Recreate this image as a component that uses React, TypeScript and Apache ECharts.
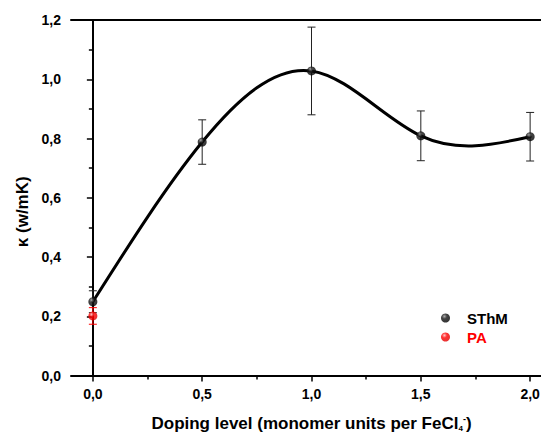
import React, { useEffect, useRef } from "react";
import * as echarts from "echarts";

// ---- data ----
const dopingLevels = [0, 0.5, 1.0, 1.5, 2.0];
const sthmKappa = [0.249, 0.788, 1.028, 0.809, 0.806];
const sthmError = [0.037, 0.075, 0.148, 0.084, 0.082];

const paLevels = [0];
const paKappa = [0.201];
const paError = [0.028];

const xMajorTicks = [0, 0.5, 1.0, 1.5, 2.0];
const xMinorTicks = [0.25, 0.75, 1.25, 1.75];
const yTicks = [0, 0.2, 0.4, 0.6, 0.8, 1.0, 1.2];

const FONT = "'Liberation Sans', Arial, Helvetica, sans-serif";
const fmt = (v: number) => v.toFixed(1).replace(".", ",");

// natural cubic spline slopes (used to draw the fitted curve through the points)
function splineSlopes(xs: number[], ys: number[]): number[] {
  const n = xs.length;
  const h: number[] = [];
  const d: number[] = [];
  for (let i = 0; i < n - 1; i++) {
    h.push(xs[i + 1] - xs[i]);
    d.push((ys[i + 1] - ys[i]) / h[i]);
  }
  const a = new Array(n).fill(0);
  const b = new Array(n).fill(0);
  const c = new Array(n).fill(0);
  const r = new Array(n).fill(0);
  b[0] = 2; c[0] = 1; r[0] = 3 * d[0];
  for (let i = 1; i < n - 1; i++) {
    a[i] = h[i];
    b[i] = 2 * (h[i - 1] + h[i]);
    c[i] = h[i - 1];
    r[i] = 3 * (h[i] * d[i - 1] + h[i - 1] * d[i]);
  }
  a[n - 1] = 1; b[n - 1] = 2; r[n - 1] = 3 * d[n - 2];
  for (let i = 1; i < n; i++) {
    const w = a[i] / b[i - 1];
    b[i] -= w * c[i - 1];
    r[i] -= w * r[i - 1];
  }
  const m = new Array(n).fill(0);
  m[n - 1] = r[n - 1] / b[n - 1];
  for (let i = n - 2; i >= 0; i--) m[i] = (r[i] - c[i] * m[i + 1]) / b[i];
  return m;
}

const sphere = (hi: string, mid: string, lo: string) =>
  new echarts.graphic.RadialGradient(0.38, 0.32, 0.7, [
    { offset: 0, color: hi },
    { offset: 0.4, color: mid },
    { offset: 1, color: lo },
  ]);

function errorBars(xs: number[], ys: number[], errs: number[], color: string) {
  return {
    type: "custom",
    silent: true,
    z: 3,
    data: xs.map((x, i) => [x, ys[i] - errs[i], ys[i] + errs[i]]),
    renderItem: (_params: any, api: any) => {
      const x = api.value(0);
      const lo = api.coord([x, api.value(1)]);
      const hi = api.coord([x, api.value(2)]);
      const w = 4;
      const style = { stroke: color, lineWidth: 1 };
      return {
        type: "group",
        children: [
          { type: "line", shape: { x1: lo[0], y1: lo[1], x2: hi[0], y2: hi[1] }, style },
          { type: "line", shape: { x1: lo[0] - w, y1: lo[1], x2: lo[0] + w, y2: lo[1] }, style },
          { type: "line", shape: { x1: hi[0] - w, y1: hi[1], x2: hi[0] + w, y2: hi[1] }, style },
        ],
      };
    },
  };
}

export default function App() {
  const ref = useRef<HTMLDivElement>(null);

  useEffect(() => {
    if (!ref.current) return;
    const chart = echarts.init(ref.current, undefined, { renderer: "svg" });
    const axisLine = { show: true, lineStyle: { color: "#000", width: 2 } };
    const tickLabel = {
      fontFamily: FONT,
      fontWeight: "bold",
      fontSize: 14,
      color: "#000",
    };
    const slopes = splineSlopes(dopingLevels, sthmKappa);
    chart.setOption({
      animation: false,
      backgroundColor: "#fff",
      grid: {
        left: 71,
        top: 20,
        bottom: 58.5,
        right: -11,
        containLabel: false,
        outerBoundsMode: "none",
      },
      xAxis: [
        {
          type: "value",
          min: -0.1,
          max: 2.1,
          position: "bottom",
          axisLine,
          splitLine: { show: false },
          axisTick: {
            show: true,
            customValues: xMajorTicks,
            length: 6,
            lineStyle: { color: "#000", width: 1.5 },
          },
          axisLabel: { ...tickLabel, customValues: xMajorTicks, margin: 11, formatter: fmt },
          name: "Doping level (monomer units per FeCl{sub|4}{sup|-})",
          nameLocation: "middle",
          nameGap: 39,
          nameTextStyle: {
            fontFamily: FONT,
            fontWeight: "bold",
            fontSize: 17,
            color: "#000",
            lineHeight: 18,
            rich: {
              sub: {
                fontFamily: FONT,
                fontWeight: "bold",
                fontSize: 8,
                color: "#000",
                verticalAlign: "bottom",
                lineHeight: 18,
              },
              sup: {
                fontFamily: FONT,
                fontWeight: "bold",
                fontSize: 9,
                color: "#000",
                verticalAlign: "top",
                lineHeight: 18,
              },
            },
          },
        },
        {
          type: "value",
          min: -0.1,
          max: 2.1,
          position: "bottom",
          axisLine: { show: false },
          splitLine: { show: false },
          axisLabel: { show: false },
          axisTick: {
            show: true,
            customValues: xMinorTicks,
            length: 4,
            lineStyle: { color: "#000", width: 1.5 },
          },
        },
        {
          type: "value",
          min: -0.1,
          max: 2.1,
          position: "top",
          axisLine,
          splitLine: { show: false },
          axisLabel: { show: false },
          axisTick: { show: false },
        },
      ],
      yAxis: {
        type: "value",
        min: 0,
        max: 1.2,
        interval: 0.2,
        axisLine,
        splitLine: { show: false },
        axisTick: { show: true, length: 6, lineStyle: { color: "#000", width: 1.5 } },
        minorTick: { show: true, splitNumber: 2, length: 4, lineStyle: { color: "#000", width: 1.5 } },
        axisLabel: { ...tickLabel, margin: 10, formatter: fmt, customValues: yTicks },
        name: "κ (w/mK)",
        nameLocation: "middle",
        nameGap: 38,
        nameTextStyle: {
          fontFamily: FONT,
          fontWeight: "bold",
          fontSize: 17,
          color: "#000",
          padding: [0, 28, 0, 0],
        },
      },
      legend: {
        orient: "vertical",
        left: 436,
        top: 305,
        icon: "circle",
        itemWidth: 9,
        itemHeight: 9,
        itemGap: 3,
        selectedMode: false,
        textStyle: {
          fontFamily: FONT,
          fontWeight: "bold",
          fontSize: 15,
          lineHeight: 16,
          padding: [0, 0, 0, 12],
        },
        data: [
          { name: "SThM", textStyle: { color: "#000" } },
          { name: "PA", textStyle: { color: "#ff0000" } },
        ],
      },
      series: [
        {
          type: "custom",
          silent: true,
          z: 2,
          data: dopingLevels.map((x, i) => [x, sthmKappa[i]]),
          renderItem: (params: any, api: any) => {
            if (params.dataIndex !== 0) return null;
            const children: any[] = [];
            for (let i = 0; i < dopingLevels.length - 1; i++) {
              const x0 = dopingLevels[i];
              const x1 = dopingLevels[i + 1];
              const y0 = sthmKappa[i];
              const y1 = sthmKappa[i + 1];
              const hh = (x1 - x0) / 3;
              const p0 = api.coord([x0, y0]);
              const c0 = api.coord([x0 + hh, y0 + slopes[i] * hh]);
              const c1 = api.coord([x1 - hh, y1 - slopes[i + 1] * hh]);
              const p1 = api.coord([x1, y1]);
              children.push({
                type: "bezierCurve",
                shape: {
                  x1: p0[0], y1: p0[1], x2: p1[0], y2: p1[1],
                  cpx1: c0[0], cpy1: c0[1], cpx2: c1[0], cpy2: c1[1],
                },
                style: { stroke: "#000", lineWidth: 3, fill: "none", lineCap: "round" },
              });
            }
            return { type: "group", children };
          },
        },
        errorBars(dopingLevels, sthmKappa, sthmError, "#222"),
        errorBars(paLevels, paKappa, paError, "#ff0000"),
        {
          name: "SThM",
          type: "scatter",
          symbol: "circle",
          symbolSize: 9,
          z: 4,
          itemStyle: { color: sphere("#9a9a9a", "#151515", "#000") },
          data: dopingLevels.map((x, i) => [x, sthmKappa[i]]),
        },
        {
          name: "PA",
          type: "scatter",
          symbol: "circle",
          symbolSize: 9,
          z: 4,
          itemStyle: { color: sphere("#ffb8b8", "#ff0000", "#e00000") },
          data: paLevels.map((x, i) => [x, paKappa[i]]),
        },
      ],
    });
    return () => chart.dispose();
  }, []);

  return (
    <div
      ref={ref}
      style={{ position: "absolute", left: 0, top: 0, width: 541, height: 434 }}
    />
  );
}
